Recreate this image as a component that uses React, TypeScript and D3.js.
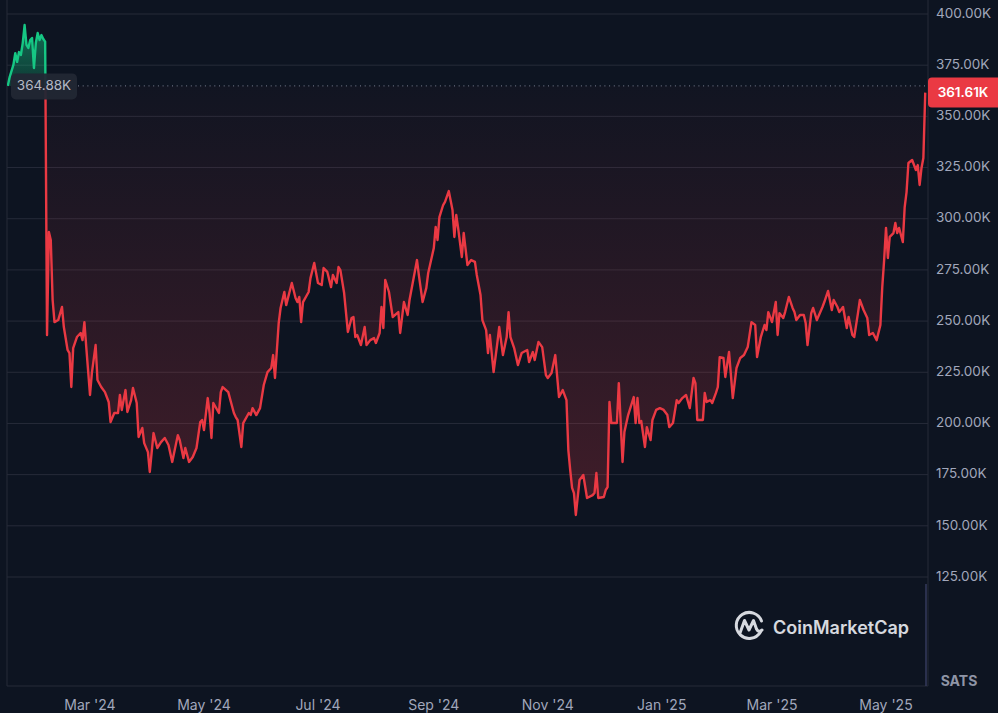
import React from "react";
import * as d3 from "d3";

// ---- Data (values in thousands of SATS) ----
const dates: string[] = [
  "2024-01-17","2024-01-18","2024-01-20","2024-01-21","2024-01-22","2024-01-23","2024-01-24","2024-01-25","2024-01-26","2024-01-27",
  "2024-01-28","2024-01-29","2024-01-30","2024-01-31","2024-02-01","2024-02-02","2024-02-03","2024-02-04","2024-02-05","2024-02-06",
  "2024-02-07","2024-02-08","2024-02-09","2024-02-10","2024-02-11","2024-02-13","2024-02-15","2024-02-16","2024-02-18","2024-02-19",
  "2024-02-20","2024-02-21","2024-02-23","2024-02-25","2024-02-26","2024-02-27","2024-02-28","2024-03-01","2024-03-02","2024-03-04",
  "2024-03-05","2024-03-07","2024-03-09","2024-03-11","2024-03-12","2024-03-14","2024-03-16","2024-03-17","2024-03-18","2024-03-20",
  "2024-03-21","2024-03-23","2024-03-24","2024-03-26","2024-03-27","2024-03-29","2024-03-30","2024-04-01","2024-04-02","2024-04-04",
  "2024-04-06","2024-04-08","2024-04-10","2024-04-12","2024-04-14","2024-04-17","2024-04-18","2024-04-20","2024-04-21","2024-04-23",
  "2024-04-25","2024-04-27","2024-04-29","2024-04-30","2024-05-01","2024-05-03","2024-05-04","2024-05-05","2024-05-06","2024-05-09",
  "2024-05-10","2024-05-11","2024-05-14","2024-05-17","2024-05-18","2024-05-19","2024-05-21","2024-05-22","2024-05-25","2024-05-26",
  "2024-05-27","2024-05-29","2024-05-31","2024-06-02","2024-06-04","2024-06-06","2024-06-07","2024-06-08","2024-06-10","2024-06-11",
  "2024-06-13","2024-06-14","2024-06-17","2024-06-19","2024-06-20","2024-06-21","2024-06-22","2024-06-23","2024-06-26","2024-06-27",
  "2024-06-29","2024-07-01","2024-07-03","2024-07-04","2024-07-06","2024-07-08","2024-07-09","2024-07-11","2024-07-12","2024-07-13",
  "2024-07-15","2024-07-17","2024-07-19","2024-07-20","2024-07-21","2024-07-22","2024-07-24","2024-07-26","2024-07-27","2024-07-29",
  "2024-07-31","2024-08-01","2024-08-03","2024-08-04","2024-08-05","2024-08-06","2024-08-08","2024-08-10","2024-08-13","2024-08-14",
  "2024-08-16","2024-08-18","2024-08-19","2024-08-21","2024-08-23","2024-08-24","2024-08-26","2024-08-28","2024-08-29","2024-09-01",
  "2024-09-02","2024-09-03","2024-09-04","2024-09-06","2024-09-07","2024-09-09","2024-09-11","2024-09-12","2024-09-13","2024-09-14",
  "2024-09-16","2024-09-17","2024-09-19","2024-09-21","2024-09-23","2024-09-24","2024-09-26","2024-09-27","2024-09-29","2024-09-30",
  "2024-10-01","2024-10-03","2024-10-05","2024-10-06","2024-10-08","2024-10-10","2024-10-11","2024-10-12","2024-10-14","2024-10-16",
  "2024-10-18","2024-10-21","2024-10-22","2024-10-24","2024-10-25","2024-10-27","2024-10-29","2024-10-31","2024-11-01","2024-11-03",
  "2024-11-05","2024-11-07","2024-11-09","2024-11-11","2024-11-12","2024-11-13","2024-11-14","2024-11-15","2024-11-16","2024-11-18",
  "2024-11-20","2024-11-22","2024-11-25","2024-11-26","2024-11-27","2024-11-28","2024-12-01","2024-12-02","2024-12-03","2024-12-04",
  "2024-12-05","2024-12-08","2024-12-09","2024-12-11","2024-12-12","2024-12-14","2024-12-17","2024-12-18","2024-12-19","2024-12-20",
  "2024-12-21","2024-12-23","2024-12-24","2024-12-26","2024-12-27","2024-12-29","2024-12-31","2025-01-02","2025-01-04","2025-01-05",
  "2025-01-07","2025-01-09","2025-01-10","2025-01-12","2025-01-14","2025-01-16","2025-01-18","2025-01-19","2025-01-20","2025-01-23",
  "2025-01-24","2025-01-25","2025-01-27","2025-01-28","2025-01-30","2025-01-31","2025-02-01","2025-02-03","2025-02-04","2025-02-06",
  "2025-02-08","2025-02-10","2025-02-12","2025-02-14","2025-02-16","2025-02-18","2025-02-20","2025-02-21","2025-02-23","2025-02-25",
  "2025-02-26","2025-02-27","2025-03-01","2025-03-03","2025-03-04","2025-03-05","2025-03-07","2025-03-08","2025-03-10","2025-03-12",
  "2025-03-13","2025-03-14","2025-03-16","2025-03-18","2025-03-19","2025-03-20","2025-03-22","2025-03-23","2025-03-25","2025-03-28",
  "2025-03-29","2025-03-31","2025-04-02","2025-04-03","2025-04-05","2025-04-06","2025-04-08","2025-04-10","2025-04-11","2025-04-13",
  "2025-04-14","2025-04-16","2025-04-17","2025-04-19","2025-04-21","2025-04-22","2025-04-24","2025-04-26","2025-04-28","2025-04-29",
  "2025-04-30","2025-05-01","2025-05-02","2025-05-03","2025-05-05","2025-05-06","2025-05-07","2025-05-08","2025-05-10","2025-05-11",
  "2025-05-12","2025-05-13","2025-05-15","2025-05-17","2025-05-18","2025-05-19","2025-05-20","2025-05-21","2025-05-22",
];

const values: number[] = [
  364.88,369.2,375.1,380.9,376.6,381.4,380.0,385.8,394.6,384.9,
  383.4,387.3,388.3,373.6,385.8,390.7,387.3,389.7,387.8,386.5,
  243.2,293.5,289.6,260.3,249.5,250.5,256.9,247.1,235.9,234.4,
  217.8,236.8,242.2,244.2,240.7,249.5,237.3,213.9,224.6,238.3,
  221.2,217.8,215.3,210.5,200.7,205.1,205.1,213.9,206.6,216.3,
  205.6,211.4,217.3,210.0,193.4,197.8,190.4,186.0,176.3,195.3,
  188.0,190.9,192.9,189.5,181.2,194.3,191.9,183.1,188.0,181.2,
  183.6,188.0,200.7,201.7,196.8,212.4,205.1,192.9,210.0,205.1,
  215.3,217.8,215.3,205.1,203.1,201.7,188.5,200.2,205.1,204.1,
  207.5,204.1,207.5,218.8,225.1,227.1,233.4,222.2,249.1,256.4,
  264.2,257.8,268.6,261.3,259.3,261.8,249.5,259.3,264.2,271.0,
  278.4,268.6,267.6,275.9,274.0,266.6,272.5,268.6,276.4,274.9,
  263.7,244.7,251.5,252.0,242.2,243.2,238.3,247.1,238.3,240.7,
  241.7,239.3,244.2,256.9,246.6,270.1,264.2,252.0,254.4,244.2,
  259.3,253.0,260.3,270.1,279.8,272.5,259.3,266.2,273.5,285.7,
  296.0,289.6,300.8,306.7,308.2,313.5,304.3,291.1,301.8,295.5,
  281.3,293.0,277.4,279.8,278.9,272.5,262.7,250.5,245.6,234.4,
  243.2,225.1,239.3,247.1,233.4,242.2,254.4,242.2,236.8,228.5,
  234.4,235.9,230.0,234.9,231.0,239.8,237.3,223.6,222.2,224.6,
  233.4,212.9,216.3,211.4,187.0,177.2,168.5,166.0,155.3,172.4,
  174.8,163.6,165.0,166.0,175.8,163.6,164.1,167.5,168.9,210.5,
  200.2,200.2,219.7,181.2,195.8,204.1,212.9,200.2,212.4,200.2,
  201.2,188.5,198.2,191.9,201.7,206.6,207.5,206.6,204.1,198.2,
  200.2,211.4,210.0,212.4,213.9,207.5,222.2,219.7,201.7,201.7,
  214.9,210.5,211.4,210.0,214.9,217.8,232.4,232.0,222.7,234.9,
  212.4,227.1,232.0,233.4,237.3,249.5,248.1,232.4,242.2,248.1,
  245.6,254.4,249.5,259.3,243.2,253.9,251.5,254.4,261.8,256.4,
  254.4,250.5,253.0,253.0,249.1,238.3,253.9,256.4,250.5,256.9,
  259.3,264.7,255.4,260.3,256.9,254.4,256.9,246.6,252.0,243.2,
  242.2,253.9,260.3,255.4,251.5,243.2,244.2,240.7,248.1,266.6,
  279.8,295.5,280.8,291.1,293.0,297.9,293.0,295.5,288.6,305.7,
  313.0,327.2,328.7,323.8,326.2,316.5,324.8,329.7,361.61,
];

const baselineValue = 364.88;
const lastValue = 361.61;

const yTicks: number[] = [125, 150, 175, 200, 225, 250, 275, 300, 325, 350, 375, 400];
const xTickDates: string[] = ["2024-03-01","2024-05-01","2024-07-01","2024-09-01","2024-11-01","2025-01-01","2025-03-01","2025-05-01"];
const xTickLabels: string[] = ["Mar '24","May '24","Jul '24","Sep '24","Nov '24","Jan '25","Mar '25","May '25"];
const unitLabel = "SATS";
const brand = "CoinMarketCap";

const W = 998;
const H = 713;
const plotLeft = 7;
const plotRight = 928;
const plotBottom = 686;

const RED = "#ea3943";
const GREEN = "#16c784";
const BG = "#0d1421";
const GRID = "#262b39";
const TXT = "#a1a7bb";
const FONT = "Inter, 'Noto Sans', sans-serif";

const parse = (s: string) => new Date(s + "T00:00:00Z");

export default function App() {
  const data = dates.map((d, i) => ({ date: parse(d), value: values[i] }));

  const x = d3.scaleUtc().domain([parse("2024-03-01"), parse("2025-05-01")]).range([90, 886]);
  const y = d3.scaleLinear().domain([125, 400]).range([577, 14]);

  const baseY = y(baselineValue);
  const lastY = y(lastValue);

  const line = d3.line<{ date: Date; value: number }>().x((d) => x(d.date)).y((d) => y(d.value));
  const area = d3
    .area<{ date: Date; value: number }>()
    .x((d) => x(d.date))
    .y0(baseY)
    .y1((d) => y(d.value));

  const linePath = line(data) || "";
  const areaPath = area(data) || "";

  const fmt = (v: number) => d3.format(".2f")(v) + "K";

  return (
    <svg
      width={W}
      height={H}
      style={{ position: "absolute", left: 0, top: 0, display: "block", background: BG }}
      fontFamily={FONT}
    >
      <defs>
        <clipPath id="clipAbove">
          <rect x={plotLeft} y={0} width={plotRight - plotLeft} height={baseY} />
        </clipPath>
        <clipPath id="clipBelow">
          <rect x={plotLeft} y={baseY} width={plotRight - plotLeft} height={plotBottom - baseY} />
        </clipPath>
        <linearGradient id="redFill" gradientUnits="userSpaceOnUse" x1={0} y1={baseY} x2={0} y2={plotBottom}>
          <stop offset="0" stopColor={RED} stopOpacity={0.02} />
          <stop offset="1" stopColor={RED} stopOpacity={0.32} />
        </linearGradient>
        <linearGradient id="greenFill" gradientUnits="userSpaceOnUse" x1={0} y1={0} x2={0} y2={baseY}>
          <stop offset="0" stopColor={GREEN} stopOpacity={0.65} />
          <stop offset="1" stopColor={GREEN} stopOpacity={0.2} />
        </linearGradient>
      </defs>

      <rect x={0} y={0} width={W} height={H} fill={BG} />

      {/* grid */}
      {yTicks.map((t) => (
        <line key={t} x1={plotLeft} x2={plotRight} y1={y(t)} y2={y(t)} stroke={GRID} strokeWidth={1} />
      ))}
      <line x1={plotLeft} x2={plotLeft} y1={0} y2={plotBottom} stroke={GRID} strokeWidth={1} />
      <line x1={plotRight} x2={plotRight} y1={0} y2={plotBottom} stroke={GRID} strokeWidth={1} />
      <line x1={plotLeft} x2={plotRight} y1={plotBottom} y2={plotBottom} stroke={GRID} strokeWidth={1} />
      <line x1={926} x2={926} y1={584} y2={plotBottom} stroke="#343a5c" strokeWidth={1.5} />

      {/* areas */}
      <path d={areaPath} fill="url(#redFill)" clipPath="url(#clipBelow)" />
      <path d={areaPath} fill="url(#greenFill)" clipPath="url(#clipAbove)" />

      {/* baseline dotted */}
      <line
        x1={78}
        x2={plotRight}
        y1={baseY}
        y2={baseY}
        stroke="#7d8394"
        strokeWidth={1}
        strokeDasharray="1 3.7"
      />

      {/* lines */}
      <path d={linePath} fill="none" stroke={RED} strokeWidth={2.4} strokeLinejoin="round" clipPath="url(#clipBelow)" />
      <path d={linePath} fill="none" stroke={GREEN} strokeWidth={2.4} strokeLinejoin="round" clipPath="url(#clipAbove)" />

      {/* baseline label */}
      <rect x={11} y={baseY - 12.5} width={66} height={26} rx={5} fill="#222734" opacity={0.95} />
      <text x={44} y={baseY + 0.5} textAnchor="middle" dominantBaseline="middle" fontSize={13.5} fill="#b4b9c6">
        {fmt(baselineValue)}
      </text>

      {/* right axis labels */}
      {yTicks.map((t) => (
        <text key={t} x={936} y={y(t)} dominantBaseline="middle" fontSize={13.5} fill={TXT}>
          {fmt(t)}
        </text>
      ))}

      {/* last value tag */}
      <rect x={plotRight} y={lastY - 15} width={W - plotRight + 4} height={30} rx={4} fill={RED} />
      <text x={963} y={lastY + 0.5} textAnchor="middle" dominantBaseline="middle" fontSize={13.5} fontWeight={600} fill="#ffffff">
        {fmt(lastValue)}
      </text>

      {/* x axis labels */}
      {xTickDates.map((d, i) => (
        <text key={d} x={x(parse(d))} y={706} textAnchor="middle" dominantBaseline="middle" fontSize={14} fill={TXT}>
          {xTickLabels[i]}
        </text>
      ))}

      <text x={959} y={682} textAnchor="middle" dominantBaseline="middle" fontSize={14} fontWeight={700} fill="#8f95a6">
        {unitLabel}
      </text>

      {/* watermark logo */}
      <g opacity={0.92}>
        <path
          d="M 760.5 632 A 13 13 0 1 1 761.5 621"
          fill="none"
          stroke="#e8eaf0"
          strokeWidth={3}
          strokeLinecap="round"
        />
        <path
          d="M 740 633 L 744.5 620.5 L 749 630 L 753.5 620.5 L 756.5 629 Q 758.5 633 762 630"
          fill="none"
          stroke="#e8eaf0"
          strokeWidth={3}
          strokeLinejoin="round"
          strokeLinecap="round"
        />
        <text x={773} y={634} fontSize={18} fontWeight={600} fill="#e8eaf0">
          {brand}
        </text>
      </g>
    </svg>
  );
}
